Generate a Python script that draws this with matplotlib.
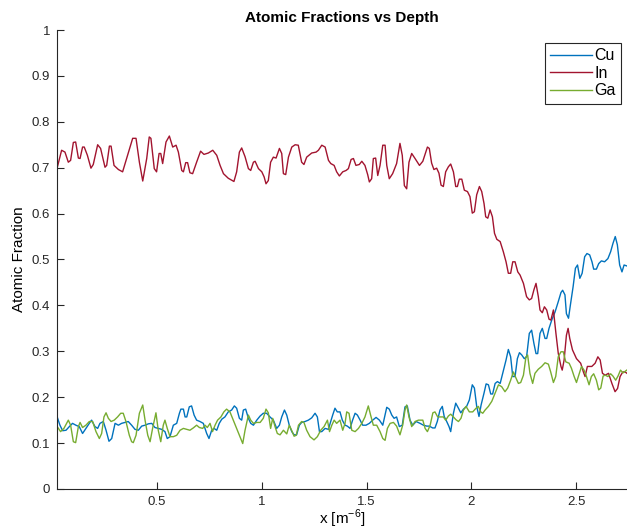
import matplotlib.pyplot as plt

plt.rcParams['font.family'] = ['Liberation Sans', 'DejaVu Sans']

# depth values
cu_x = [0.013, 0.024, 0.037, 0.050, 0.066, 0.082, 0.097, 0.113, 0.129, 0.145, 0.161, 0.177, 0.188, 0.204, 0.217,
        0.228, 0.244, 0.257, 0.271, 0.284, 0.300, 0.316, 0.331, 0.347, 0.363, 0.379, 0.395, 0.411, 0.427, 0.443,
        0.459, 0.475, 0.490, 0.506, 0.522, 0.538, 0.549, 0.562, 0.578, 0.594, 0.607, 0.614, 0.626, 0.634, 0.642,
        0.654, 0.665, 0.677, 0.689, 0.705, 0.721, 0.737, 0.748, 0.761, 0.772, 0.785, 0.797, 0.809, 0.824, 0.840,
        0.856, 0.869, 0.880, 0.893, 0.904, 0.912, 0.923, 0.936, 0.947, 0.960, 0.976, 0.992, 1.007, 1.023, 1.039,
        1.055, 1.071, 1.084, 1.095, 1.108, 1.119, 1.131, 1.143, 1.154, 1.166, 1.179, 1.190, 1.206, 1.222, 1.238,
        1.254, 1.265, 1.275, 1.286, 1.302, 1.318, 1.326, 1.338, 1.349, 1.360, 1.373, 1.384, 1.397, 1.408, 1.421,
        1.433, 1.445, 1.456, 1.469, 1.481, 1.497, 1.513, 1.529, 1.545, 1.561, 1.577, 1.588, 1.596, 1.608, 1.620,
        1.631, 1.643, 1.656, 1.670, 1.683, 1.694, 1.707, 1.720, 1.736, 1.755, 1.771, 1.787, 1.799, 1.815, 1.826,
        1.837, 1.850, 1.861, 1.870, 1.882, 1.893, 1.901, 1.914, 1.925, 1.938, 1.949, 1.962, 1.977, 1.990, 2.004,
        2.014, 2.025, 2.036, 2.046, 2.060, 2.070, 2.081, 2.092, 2.101, 2.113, 2.124, 2.137, 2.149, 2.165, 2.176,
        2.187, 2.197, 2.208, 2.219, 2.229, 2.240, 2.252, 2.263, 2.276, 2.287, 2.298, 2.308, 2.316, 2.327, 2.338,
        2.351, 2.359, 2.370, 2.383, 2.399, 2.414, 2.427, 2.435, 2.446, 2.453, 2.463, 2.472, 2.485, 2.496, 2.506,
        2.517, 2.528, 2.540, 2.551, 2.564, 2.575, 2.583, 2.596, 2.607, 2.620, 2.635, 2.651, 2.664, 2.675, 2.686,
        2.696, 2.707, 2.718, 2.728, 2.741]
cu_y = [0.172, 0.157, 0.139, 0.127, 0.128, 0.136, 0.143, 0.139, 0.136, 0.121, 0.132, 0.143, 0.150, 0.136, 0.132,
        0.143, 0.147, 0.128, 0.104, 0.110, 0.143, 0.139, 0.143, 0.145, 0.147, 0.139, 0.130, 0.128, 0.137, 0.139,
        0.142, 0.143, 0.134, 0.132, 0.130, 0.125, 0.110, 0.114, 0.139, 0.143, 0.165, 0.174, 0.174, 0.157, 0.157,
        0.179, 0.181, 0.161, 0.150, 0.147, 0.143, 0.121, 0.110, 0.128, 0.132, 0.128, 0.143, 0.152, 0.157, 0.168,
        0.172, 0.181, 0.176, 0.154, 0.150, 0.172, 0.174, 0.154, 0.143, 0.139, 0.150, 0.159, 0.165, 0.165, 0.157,
        0.150, 0.132, 0.139, 0.157, 0.172, 0.161, 0.139, 0.125, 0.118, 0.118, 0.139, 0.145, 0.147, 0.150, 0.155,
        0.165, 0.157, 0.125, 0.125, 0.132, 0.130, 0.143, 0.161, 0.176, 0.168, 0.168, 0.150, 0.139, 0.137, 0.132,
        0.150, 0.165, 0.161, 0.150, 0.139, 0.139, 0.143, 0.150, 0.156, 0.150, 0.139, 0.161, 0.178, 0.174, 0.161,
        0.154, 0.157, 0.136, 0.139, 0.179, 0.181, 0.150, 0.139, 0.147, 0.143, 0.139, 0.137, 0.137, 0.133, 0.133,
        0.147, 0.172, 0.180, 0.158, 0.147, 0.136, 0.125, 0.165, 0.187, 0.176, 0.166, 0.174, 0.180, 0.194, 0.227,
        0.220, 0.180, 0.158, 0.183, 0.209, 0.229, 0.227, 0.207, 0.207, 0.230, 0.234, 0.230, 0.252, 0.281, 0.304,
        0.288, 0.245, 0.245, 0.284, 0.297, 0.292, 0.284, 0.288, 0.339, 0.346, 0.317, 0.295, 0.295, 0.339, 0.350,
        0.328, 0.328, 0.350, 0.368, 0.386, 0.408, 0.428, 0.433, 0.423, 0.382, 0.372, 0.401, 0.441, 0.481, 0.488,
        0.459, 0.470, 0.506, 0.513, 0.510, 0.495, 0.479, 0.479, 0.491, 0.497, 0.495, 0.502, 0.517, 0.535, 0.550,
        0.532, 0.488, 0.473, 0.488, 0.486]

in_x = [0.013, 0.045, 0.061, 0.077, 0.088, 0.101, 0.112, 0.125, 0.133, 0.145, 0.153, 0.168, 0.185, 0.196, 0.217,
        0.231, 0.252, 0.260, 0.273, 0.281, 0.295, 0.316, 0.336, 0.355, 0.384, 0.400, 0.416, 0.432, 0.451, 0.463,
        0.471, 0.487, 0.498, 0.510, 0.518, 0.527, 0.543, 0.559, 0.575, 0.591, 0.602, 0.618, 0.626, 0.637, 0.646,
        0.657, 0.670, 0.689, 0.708, 0.724, 0.745, 0.766, 0.785, 0.801, 0.817, 0.840, 0.867, 0.880, 0.893, 0.904,
        0.920, 0.936, 0.947, 0.960, 0.968, 0.984, 1.000, 1.011, 1.020, 1.031, 1.042, 1.055, 1.068, 1.084, 1.095,
        1.103, 1.114, 1.127, 1.143, 1.159, 1.174, 1.190, 1.201, 1.214, 1.238, 1.259, 1.270, 1.286, 1.302, 1.318,
        1.329, 1.345, 1.357, 1.370, 1.386, 1.402, 1.413, 1.426, 1.437, 1.449, 1.465, 1.477, 1.492, 1.505, 1.513,
        1.524, 1.532, 1.543, 1.553, 1.564, 1.577, 1.588, 1.596, 1.608, 1.624, 1.643, 1.659, 1.670, 1.680, 1.691,
        1.702, 1.715, 1.731, 1.752, 1.768, 1.790, 1.799, 1.810, 1.821, 1.834, 1.845, 1.855, 1.866, 1.877, 1.890,
        1.901, 1.914, 1.925, 1.933, 1.942, 1.954, 1.966, 1.981, 1.993, 2.004, 2.014, 2.025, 2.038, 2.049, 2.060,
        2.068, 2.078, 2.089, 2.100, 2.110, 2.121, 2.137, 2.152, 2.165, 2.176, 2.187, 2.197, 2.208, 2.221, 2.232,
        2.248, 2.263, 2.276, 2.287, 2.298, 2.308, 2.319, 2.327, 2.338, 2.348, 2.359, 2.370, 2.379, 2.391, 2.403,
        2.414, 2.427, 2.433, 2.442, 2.453, 2.461, 2.469, 2.482, 2.501, 2.521, 2.534, 2.542, 2.553, 2.574, 2.590,
        2.603, 2.614, 2.625, 2.638, 2.654, 2.670, 2.685, 2.697, 2.709, 2.722, 2.733, 2.742]
in_y = [0.680, 0.738, 0.734, 0.712, 0.716, 0.755, 0.756, 0.721, 0.720, 0.745, 0.745, 0.727, 0.699, 0.707, 0.750,
        0.742, 0.701, 0.705, 0.747, 0.747, 0.705, 0.696, 0.691, 0.720, 0.764, 0.764, 0.712, 0.671, 0.720, 0.767,
        0.764, 0.698, 0.691, 0.731, 0.731, 0.709, 0.756, 0.769, 0.745, 0.749, 0.734, 0.694, 0.691, 0.711, 0.711,
        0.689, 0.687, 0.712, 0.736, 0.729, 0.732, 0.738, 0.727, 0.705, 0.687, 0.677, 0.670, 0.691, 0.734, 0.743,
        0.724, 0.698, 0.694, 0.712, 0.714, 0.698, 0.691, 0.680, 0.665, 0.672, 0.712, 0.723, 0.721, 0.742, 0.731,
        0.687, 0.685, 0.723, 0.745, 0.750, 0.749, 0.712, 0.707, 0.723, 0.732, 0.734, 0.738, 0.749, 0.745, 0.716,
        0.709, 0.705, 0.691, 0.682, 0.691, 0.694, 0.698, 0.718, 0.720, 0.705, 0.707, 0.714, 0.705, 0.685, 0.669,
        0.676, 0.720, 0.721, 0.683, 0.705, 0.749, 0.749, 0.705, 0.676, 0.687, 0.709, 0.753, 0.727, 0.661, 0.654,
        0.712, 0.731, 0.720, 0.705, 0.714, 0.745, 0.742, 0.710, 0.696, 0.699, 0.688, 0.662, 0.659, 0.691, 0.702,
        0.708, 0.691, 0.659, 0.659, 0.675, 0.675, 0.651, 0.648, 0.637, 0.601, 0.604, 0.641, 0.659, 0.648, 0.622,
        0.593, 0.590, 0.608, 0.593, 0.557, 0.544, 0.539, 0.517, 0.495, 0.470, 0.470, 0.495, 0.495, 0.473, 0.466,
        0.448, 0.419, 0.412, 0.415, 0.434, 0.448, 0.419, 0.390, 0.384, 0.397, 0.390, 0.370, 0.368, 0.390, 0.339,
        0.296, 0.267, 0.259, 0.281, 0.335, 0.350, 0.328, 0.303, 0.284, 0.274, 0.255, 0.245, 0.267, 0.267, 0.274,
        0.288, 0.281, 0.252, 0.248, 0.252, 0.230, 0.212, 0.219, 0.245, 0.255, 0.255, 0.252]

ga_x = [0.013, 0.024, 0.040, 0.056, 0.077, 0.088, 0.101, 0.112, 0.125, 0.133, 0.145, 0.161, 0.177, 0.193, 0.209,
        0.225, 0.236, 0.247, 0.257, 0.268, 0.281, 0.296, 0.312, 0.327, 0.339, 0.352, 0.368, 0.379, 0.387, 0.400,
        0.416, 0.432, 0.443, 0.456, 0.467, 0.479, 0.495, 0.506, 0.518, 0.530, 0.538, 0.549, 0.562, 0.578, 0.594,
        0.610, 0.626, 0.642, 0.657, 0.673, 0.689, 0.702, 0.718, 0.729, 0.740, 0.753, 0.765, 0.777, 0.789, 0.805,
        0.819, 0.832, 0.848, 0.864, 0.880, 0.896, 0.909, 0.920, 0.936, 0.947, 0.960, 0.976, 0.992, 1.007, 1.020,
        1.031, 1.042, 1.052, 1.063, 1.074, 1.087, 1.103, 1.119, 1.131, 1.143, 1.154, 1.164, 1.175, 1.190, 1.201,
        1.214, 1.230, 1.249, 1.265, 1.281, 1.297, 1.313, 1.323, 1.334, 1.345, 1.357, 1.373, 1.386, 1.397, 1.405,
        1.416, 1.429, 1.445, 1.461, 1.477, 1.492, 1.508, 1.519, 1.532, 1.548, 1.564, 1.577, 1.588, 1.599, 1.612,
        1.628, 1.643, 1.659, 1.672, 1.683, 1.691, 1.702, 1.715, 1.731, 1.747, 1.768, 1.779, 1.790, 1.803, 1.816,
        1.826, 1.839, 1.850, 1.866, 1.877, 1.890, 1.901, 1.914, 1.926, 1.938, 1.950, 1.962, 1.974, 1.990, 2.006,
        2.022, 2.033, 2.044, 2.054, 2.065, 2.081, 2.097, 2.113, 2.129, 2.144, 2.160, 2.173, 2.187, 2.200, 2.213,
        2.224, 2.235, 2.248, 2.260, 2.268, 2.279, 2.292, 2.303, 2.319, 2.335, 2.351, 2.367, 2.378, 2.391, 2.402,
        2.414, 2.427, 2.438, 2.450, 2.466, 2.477, 2.490, 2.501, 2.512, 2.525, 2.537, 2.548, 2.561, 2.572, 2.583,
        2.596, 2.607, 2.617, 2.628, 2.638, 2.651, 2.664, 2.675, 2.688, 2.699, 2.711, 2.723, 2.741]
ga_y = [0.150, 0.136, 0.125, 0.132, 0.150, 0.139, 0.103, 0.101, 0.136, 0.145, 0.134, 0.139, 0.147, 0.147, 0.125,
        0.110, 0.121, 0.157, 0.166, 0.154, 0.147, 0.150, 0.157, 0.165, 0.165, 0.147, 0.117, 0.103, 0.101, 0.117,
        0.165, 0.183, 0.150, 0.117, 0.103, 0.132, 0.166, 0.128, 0.103, 0.139, 0.150, 0.132, 0.114, 0.114, 0.117,
        0.128, 0.132, 0.130, 0.128, 0.133, 0.139, 0.134, 0.132, 0.139, 0.134, 0.143, 0.125, 0.139, 0.150, 0.157,
        0.168, 0.174, 0.168, 0.150, 0.132, 0.114, 0.099, 0.128, 0.161, 0.150, 0.143, 0.145, 0.145, 0.154, 0.174,
        0.166, 0.132, 0.154, 0.136, 0.121, 0.118, 0.128, 0.120, 0.139, 0.127, 0.115, 0.117, 0.139, 0.147, 0.145,
        0.128, 0.114, 0.107, 0.114, 0.128, 0.136, 0.150, 0.125, 0.139, 0.150, 0.143, 0.150, 0.128, 0.143, 0.168,
        0.165, 0.128, 0.125, 0.132, 0.143, 0.157, 0.181, 0.161, 0.139, 0.139, 0.125, 0.110, 0.106, 0.132, 0.143,
        0.145, 0.137, 0.118, 0.139, 0.172, 0.183, 0.157, 0.136, 0.147, 0.150, 0.150, 0.132, 0.125, 0.139, 0.166,
        0.168, 0.157, 0.157, 0.157, 0.150, 0.159, 0.163, 0.157, 0.151, 0.147, 0.154, 0.172, 0.180, 0.168, 0.168,
        0.176, 0.180, 0.168, 0.165, 0.172, 0.180, 0.191, 0.209, 0.227, 0.223, 0.212, 0.220, 0.237, 0.255, 0.241,
        0.230, 0.232, 0.248, 0.288, 0.292, 0.252, 0.230, 0.252, 0.261, 0.267, 0.275, 0.272, 0.255, 0.232, 0.245,
        0.288, 0.299, 0.299, 0.277, 0.274, 0.263, 0.245, 0.232, 0.248, 0.267, 0.259, 0.246, 0.227, 0.245, 0.251,
        0.237, 0.216, 0.220, 0.246, 0.248, 0.245, 0.251, 0.246, 0.237, 0.246, 0.259, 0.253, 0.259]

fig = plt.figure(figsize=(6.27, 5.31), dpi=100)
ax = fig.add_axes([0.0909, 0.0791, 0.9091, 0.8644])

ax.plot(cu_x, cu_y, color='#0072BD', lw=1.0, label='Cu')
ax.plot(in_x, in_y, color='#A2142F', lw=1.0, label='In')
ax.plot(ga_x, ga_y, color='#77AC30', lw=1.0, label='Ga')

ax.set_xlim(0.023, 2.742)
ax.set_ylim(0, 1)
ax.set_xticks([0.5, 1, 1.5, 2, 2.5])
ax.set_xticklabels(['0.5', '1', '1.5', '2', '2.5'])
ax.set_yticks([i / 10 for i in range(11)])
ax.set_yticklabels(['0', '0.1', '0.2', '0.3', '0.4', '0.5', '0.6', '0.7', '0.8', '0.9', '1'])
ax.tick_params(direction='in', length=5, labelsize=9.5, colors='#262626', pad=5)

ax.spines['top'].set_visible(False)
ax.spines['right'].set_visible(False)
for s in ['left', 'bottom']:
    ax.spines[s].set_color('#262626')
    ax.spines[s].set_linewidth(0.8)

ax.set_title('Atomic Fractions vs Depth', fontsize=11, fontweight='bold', pad=6)
ax.set_xlabel('x [m$^{\\mathregular{-6}}$]', fontsize=11, labelpad=0)
ax.set_ylabel('Atomic Fraction', fontsize=11, labelpad=4)

leg = ax.legend(loc='upper right', bbox_to_anchor=(0.99, 0.972), fancybox=False, framealpha=1,
                edgecolor='#262626', fontsize=11.5, handlelength=2.6, handletextpad=0.15,
                borderpad=0.35, labelspacing=0.15, borderaxespad=0)
leg.get_frame().set_linewidth(0.8)

fig.savefig('out.png', dpi=100)
